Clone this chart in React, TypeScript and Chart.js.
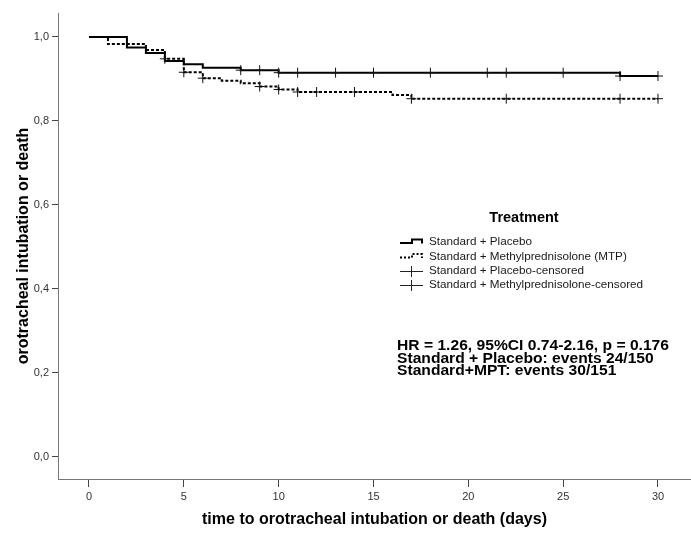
import React, { useEffect, useRef } from 'react';
import { Chart, registerables } from 'chart.js';

Chart.register(...registerables);

// ---- data ----
const placeboTimes = [0, 2, 3, 4, 5, 6, 8, 10, 28, 30];
const placeboSurv = [1.0, 0.975, 0.962, 0.943, 0.935, 0.927, 0.921, 0.915, 0.907, 0.907];
const mtpTimes = [0, 1, 3, 4, 5, 6, 7, 8, 9, 10, 11, 16, 17, 30];
const mtpSurv = [1.0, 0.983, 0.969, 0.948, 0.916, 0.902, 0.896, 0.89, 0.882, 0.875, 0.869, 0.862, 0.853, 0.853];
const placeboCensored = [8, 9, 10, 11, 13, 15, 18, 21, 22, 25, 28, 30];
const mtpCensored = [4, 5, 6, 9, 10, 11, 12, 14, 17, 22, 28, 30];

const xTicks = [0, 5, 10, 15, 20, 25, 30];
const yTicks = [0, 0.2, 0.4, 0.6, 0.8, 1.0];
const yTickLabels = ['0,0', '0,2', '0,4', '0,6', '0,8', '1,0'];

const xTitle = 'time to orotracheal intubation or death (days)';
const yTitle = 'orotracheal intubation or death';
const legendTitle = 'Treatment';
const legendLabels = [
  'Standard + Placebo',
  'Standard + Methylprednisolone (MTP)',
  'Standard + Placebo-censored',
  'Standard + Methylprednisolone-censored',
];
const annotationLines = [
  'HR = 1.26, 95%CI 0.74-2.16, p = 0.176',
  'Standard + Placebo: events 24/150',
  'Standard+MPT: events 30/151',
];

const FONT = "'Liberation Sans', Arial, sans-serif";

function levelAt(times: number[], surv: number[], t: number): number {
  let v = surv[0];
  for (let i = 0; i < times.length; i++) {
    if (times[i] <= t) v = surv[i];
  }
  return v;
}

const overlayPlugin = {
  id: 'overlay',
  afterDraw(chart: any) {
    const ctx = chart.ctx as CanvasRenderingContext2D;
    ctx.save();
    // legend title
    ctx.fillStyle = '#000';
    ctx.font = `bold 14.5px ${FONT}`;
    ctx.textAlign = 'center';
    ctx.textBaseline = 'middle';
    ctx.fillText(legendTitle, 524, 218);

    const rows = [241.5, 256, 270.5, 284.5];
    ctx.font = `11.7px ${FONT}`;
    ctx.textAlign = 'left';
    ctx.fillStyle = '#1a1a1a';
    legendLabels.forEach((lab, i) => {
      ctx.fillText(lab, 429, rows[i] + 0.5);
    });
    // icons
    ctx.strokeStyle = '#000';
    ctx.lineWidth = 2;
    ctx.setLineDash([]);
    ctx.beginPath();
    ctx.moveTo(400, rows[0] + 1.5);
    ctx.lineTo(412, rows[0] + 1.5);
    ctx.lineTo(412, rows[0] - 2);
    ctx.lineTo(422, rows[0] - 2);
    ctx.lineTo(422, rows[0] + 2);
    ctx.stroke();
    ctx.setLineDash([2, 2]);
    ctx.beginPath();
    ctx.moveTo(400, rows[1] + 1.5);
    ctx.lineTo(412, rows[1] + 1.5);
    ctx.lineTo(412, rows[1] - 2);
    ctx.lineTo(422, rows[1] - 2);
    ctx.lineTo(422, rows[1] + 2);
    ctx.stroke();
    ctx.setLineDash([]);
    ctx.lineWidth = 1;
    ctx.strokeStyle = '#222';
    [rows[2], rows[3]].forEach((y) => {
      const yy = Math.round(y) + 0.5;
      ctx.beginPath();
      ctx.moveTo(400, yy);
      ctx.lineTo(423, yy);
      ctx.moveTo(411.5, yy - 5.5);
      ctx.lineTo(411.5, yy + 5.5);
      ctx.stroke();
    });

    // annotation (slightly wide bold face, as in the original)
    ctx.fillStyle = '#000';
    ctx.font = `bold 14px ${FONT}`;
    ctx.textAlign = 'left';
    const aRows = [346.5, 359, 371.5];
    const targetWidth = 272;
    const w0 = ctx.measureText(annotationLines[0]).width;
    const sx = targetWidth / w0;
    annotationLines.forEach((t, i) => {
      ctx.save();
      ctx.translate(397, aRows[i]);
      ctx.scale(sx, 1);
      ctx.fillText(t, 0, 0);
      ctx.restore();
    });
    ctx.restore();
  },
};

export default function App() {
  const ref = useRef<HTMLCanvasElement | null>(null);

  useEffect(() => {
    document.body.style.margin = '0';
    const canvas = ref.current;
    if (!canvas) return;

    const placeboLine = placeboTimes.map((t, i) => ({ x: t, y: placeboSurv[i] }));
    const mtpLine = mtpTimes.map((t, i) => ({ x: t, y: mtpSurv[i] }));
    const placeboCens = placeboCensored.map((t) => ({ x: t, y: levelAt(placeboTimes, placeboSurv, t) }));
    const mtpCens = mtpCensored.map((t) => ({ x: t, y: levelAt(mtpTimes, mtpSurv, t) }));

    const chart = new Chart(canvas, {
      type: 'line',
      data: {
        datasets: [
          {
            label: 'Standard + Placebo-censored',
            data: placeboCens,
            showLine: false,
            pointStyle: 'cross',
            pointRadius: 5,
            borderWidth: 1,
            borderColor: '#111',
            order: 0,
          } as any,
          {
            label: 'Standard + Methylprednisolone-censored',
            data: mtpCens,
            showLine: false,
            pointStyle: 'cross',
            pointRadius: 5,
            borderWidth: 1,
            borderColor: '#111',
            order: 1,
          },
          {
            label: 'Standard + Placebo',
            data: placeboLine,
            stepped: 'before',
            borderColor: '#000',
            borderWidth: 2,
            pointRadius: 0,
            fill: false,
            order: 2,
          },
          {
            label: 'Standard + Methylprednisolone (MTP)',
            data: mtpLine,
            stepped: 'before',
            borderColor: '#000',
            borderWidth: 2,
            borderDash: [3, 2],
            pointRadius: 0,
            fill: false,
            order: 3,
          },
        ],
      },
      options: {
        responsive: false,
        animation: false,
        devicePixelRatio: 1,
        layout: { autoPadding: false, padding: { top: 13, right: 0, left: 0, bottom: 0 } },
        plugins: {
          legend: { display: false },
          tooltip: { enabled: false },
        },
        scales: {
          x: {
            type: 'linear',
            min: -1.634,
            max: 31.74,
            afterBuildTicks: (axis: any) => {
              axis.ticks = xTicks.map((v) => ({ value: v }));
            },
            afterFit: (axis: any) => {
              axis.height = 60;
            },
            grid: { display: true, drawOnChartArea: false, drawTicks: true, tickLength: 8, color: '#444', lineWidth: 1 },
            border: { display: true, color: '#777', width: 1 },
            ticks: {
              autoSkip: false,
              maxRotation: 0,
              padding: 3,
              color: '#333',
              font: { family: FONT, size: 11 },
            },
            title: {
              display: true,
              text: xTitle,
              color: '#000',
              font: { family: FONT, size: 16, weight: 'bold' },
              padding: { top: 0, bottom: 10 },
            },
          },
          y: {
            type: 'linear',
            min: -0.0524,
            max: 1.0571,
            afterBuildTicks: (axis: any) => {
              axis.ticks = yTicks.map((v) => ({ value: v }));
            },
            afterFit: (axis: any) => {
              axis.width = 58;
            },
            grid: { display: true, drawOnChartArea: false, drawTicks: true, tickLength: 6, color: '#444', lineWidth: 1 },
            border: { display: true, color: '#777', width: 1 },
            ticks: {
              autoSkip: false,
              padding: 3,
              color: '#333',
              font: { family: FONT, size: 11 },
              callback: (value: any) => {
                const idx = yTicks.findIndex((v) => Math.abs(v - Number(value)) < 1e-6);
                return idx >= 0 ? yTickLabels[idx] : '';
              },
            },
            title: {
              display: true,
              text: yTitle,
              color: '#000',
              font: { family: FONT, size: 16, weight: 'bold' },
              padding: { top: 14, bottom: 0 },
            },
          },
        },
      },
      plugins: [overlayPlugin],
    });

    return () => chart.destroy();
  }, []);

  return (
    <div style={{ position: 'absolute', left: 0, top: 0, width: 691, height: 539, background: '#fff' }}>
      <canvas ref={ref} width={691} height={539} />
    </div>
  );
}
